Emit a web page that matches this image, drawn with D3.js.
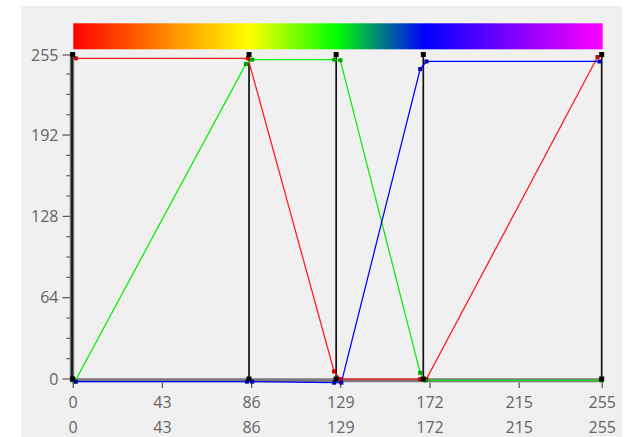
<!DOCTYPE html>
<html><head><meta charset="utf-8">
<script src="https://cdn.jsdelivr.net/npm/d3@7"></script>
<style>html,body{margin:0;padding:0;background:#fff;} svg{display:block;}</style>
</head><body><svg id="c" width="635" height="437"></svg>
<script>
// ---- data ----
const controlPoints = [0, 85, 127, 169, 255];
const gradR = [255, 255, 0, 0, 255];
const gradG = [0, 255, 255, 0, 0];
const gradB = [0, 0, 0, 255, 255];
const redSeries   = [[1.5,252],[84.5,252],[126,5.5],[129,-0.5],[167.5,-0.5],[170.5,-0.5],[253,253]];
const greenSeries = [[1,-2.5],[83.5,247.5],[86.5,251],[126,251],[129,250.5],[167.5,4.5],[170,-1.5],[255,-1.5]];
const blueSeries  = [[1.5,-2.5],[84,-2.5],[86.5,-2.5],[126,-3.3],[129.5,-3.3],[167.5,243.5],[170.5,249.5],[254,249.5]];
const xTickLabels = [0, 43, 86, 129, 172, 215, 255];
const yTickMajor = [0, 64, 128, 192, 255];
const yTickMinor = [16, 32, 48, 80, 96, 112, 144, 160, 176, 208, 224, 240];

// ---- drawing ----
const svg = d3.select("#c");
const x = d3.scaleLinear().domain([0, 255]).range([72.7, 601.7]);
const y = d3.scaleLinear().domain([0, 255]).range([378.5, 54.5]);
const font = "'Open Sans', 'Noto Sans', sans-serif";
const txt = "#646464";

svg.append("rect").attr("x", 21).attr("y", 6).attr("width", 601).attr("height", 431).attr("fill", "#f0f0f0");

// gradient bar
const defs = svg.append("defs");
const lg = defs.append("linearGradient").attr("id", "g").attr("x1", "0%").attr("x2", "100%");
controlPoints.forEach((c, i) => {
  lg.append("stop").attr("offset", (c / 255 * 100) + "%")
    .attr("stop-color", d3.rgb(gradR[i], gradG[i], gradB[i]).toString());
});
svg.append("rect").attr("x", x(0) + 0.6).attr("y", 23.3).attr("width", x(255) - x(0) + 0.4).attr("height", 26)
  .attr("fill", "url(#g)");

// x axis band
svg.append("line").attr("x1", x(0) - 1).attr("x2", x(255) + 1.5).attr("y1", 380.3).attr("y2", 380.3)
  .attr("stroke", "#7a7a7a").attr("stroke-width", 4);

// x axis ticks + first label row
const xa = svg.append("g").attr("transform", "translate(0,382.5)")
  .call(d3.axisBottom(x).tickValues(xTickLabels).tickSize(5.5).tickSizeOuter(0).tickFormat(d3.format("d")));
xa.select(".domain").remove();
xa.selectAll(".tick line").attr("stroke", "#555").attr("stroke-width", 1.2);
xa.selectAll("text").attr("y", 25.5).attr("dy", null).attr("fill", txt)
  .style("font-family", font).style("font-size", "16px");
// second label row
const xb = svg.append("g").attr("transform", "translate(0,408)")
  .call(d3.axisBottom(x).tickValues(xTickLabels).tickSize(0).tickFormat(d3.format("d")));
xb.select(".domain").remove();
xb.selectAll("text").attr("y", 25).attr("dy", null).attr("fill", txt)
  .style("font-family", font).style("font-size", "16px");

// y axis
const ya = svg.append("g").attr("transform", "translate(70.5,0)")
  .call(d3.axisLeft(y).tickValues(yTickMajor).tickSize(8).tickSizeOuter(0).tickPadding(4).tickFormat(d3.format("d")));
ya.select(".domain").remove();
ya.selectAll(".tick line").attr("stroke", "#555").attr("stroke-width", 1.2);
ya.selectAll("text").attr("fill", txt).attr("dy", "0.36em").style("font-family", font).style("font-size", "16px");
const yb = svg.append("g").attr("transform", "translate(70.5,0)")
  .call(d3.axisLeft(y).tickValues(yTickMinor).tickSize(4).tickSizeOuter(0).tickFormat(""));
yb.select(".domain").remove();
yb.selectAll(".tick line").attr("stroke", "#555").attr("stroke-width", 1.2);

// y axis line
svg.append("line").attr("x1", 72).attr("x2", 72).attr("y1", y(255) - 1).attr("y2", 382)
  .attr("stroke", "#8a8a8a").attr("stroke-width", 4.5);
svg.append("line").attr("x1", 72).attr("x2", 72).attr("y1", y(255) - 1).attr("y2", 382)
  .attr("stroke", "#222").attr("stroke-width", 2.5);

// control vertical lines
svg.append("g").selectAll("line").data(controlPoints.slice(1)).join("line")
  .attr("x1", d => x(d)).attr("x2", d => x(d)).attr("y1", y(255)).attr("y2", y(0))
  .attr("stroke", "#111").attr("stroke-width", 1.7);

// channel lines
const line = d3.line().x(d => x(d[0])).y(d => y(d[1]));
const series = [
  {data: redSeries, line: "#ff1a1a", mark: "#c80000"},
  {data: greenSeries, line: "#00f000", mark: "#00a000"},
  {data: blueSeries, line: "#0000ff", mark: "#0000b4"}
];
series.forEach(s => {
  svg.append("path").datum(s.data).attr("d", line).attr("fill", "none")
    .attr("stroke", s.line).attr("stroke-width", 1.25);
});
series.forEach(s => {
  svg.append("g").selectAll("rect").data(s.data).join("rect")
    .attr("x", d => x(d[0]) - 2).attr("y", d => y(d[1]) - 2).attr("width", 4).attr("height", 4)
    .attr("fill", s.mark);
});

// control squares
const cs = svg.append("g");
cs.selectAll("rect.t").data(controlPoints).join("rect").attr("class", "t")
  .attr("x", d => x(d) - 2.5).attr("y", y(255) - 2.5).attr("width", 5).attr("height", 5).attr("fill", "#000");
cs.selectAll("rect.b").data(controlPoints).join("rect").attr("class", "b")
  .attr("x", d => x(d) - 2.5).attr("y", y(0) - 2).attr("width", 5).attr("height", 5).attr("fill", "#000");
</script></body></html>
